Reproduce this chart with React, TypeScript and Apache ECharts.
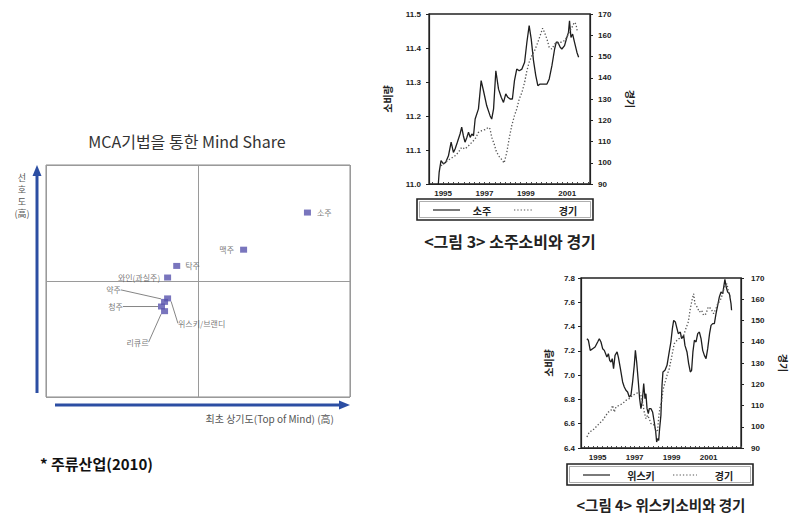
import React, { useEffect, useRef } from "react";
import * as echarts from "echarts";

// ---- MCA scatter data ----
const mcaNames = ["소주", "맥주", "탁주", "와인(과실주)", "위스키/브랜디", "약주", "청주", "리큐르"];
const mcaX = [0.72, 0.3, -0.14, -0.2, -0.2, -0.22, -0.24, -0.22];
const mcaY = [0.59, 0.27, 0.13, 0.03, -0.15, -0.18, -0.22, -0.26];

// ---- 그림 3: 소주 consumption (left) & 경기 (right) ----
const sojuConsumption: [number, number][] = [
  [1994.77, 11.0], [1994.81, 11.034], [1994.9, 11.069], [1995.02, 11.059], [1995.13, 11.064],
  [1995.26, 11.083], [1995.39, 11.123], [1995.5, 11.093], [1995.58, 11.103], [1995.69, 11.123],
  [1995.82, 11.147], [1995.9, 11.167], [1995.98, 11.142], [1996.06, 11.123], [1996.15, 11.137],
  [1996.23, 11.152], [1996.31, 11.137], [1996.39, 11.147], [1996.47, 11.142], [1996.55, 11.191],
  [1996.71, 11.221], [1996.84, 11.304], [1996.95, 11.275], [1997.11, 11.23], [1997.27, 11.201],
  [1997.35, 11.191], [1997.44, 11.221], [1997.55, 11.333], [1997.68, 11.279], [1997.81, 11.255],
  [1997.92, 11.24], [1998.03, 11.265], [1998.13, 11.255], [1998.24, 11.25], [1998.35, 11.25],
  [1998.45, 11.304], [1998.56, 11.338], [1998.68, 11.333], [1998.81, 11.338], [1998.94, 11.358],
  [1999.05, 11.417], [1999.16, 11.466], [1999.26, 11.426], [1999.37, 11.363], [1999.48, 11.319],
  [1999.58, 11.289], [1999.69, 11.294], [1999.85, 11.294], [2000.02, 11.294], [2000.13, 11.309],
  [2000.26, 11.348], [2000.39, 11.397], [2000.47, 11.417], [2000.55, 11.417], [2000.66, 11.402],
  [2000.74, 11.397], [2000.87, 11.407], [2000.98, 11.431], [2001.06, 11.446], [2001.11, 11.48],
  [2001.18, 11.431], [2001.26, 11.441], [2001.35, 11.417], [2001.47, 11.387], [2001.55, 11.373],
];
const sojuEconomy: [number, number][] = [
  [1994.9, 98.6], [1995.1, 100.2], [1995.34, 101.8], [1995.58, 103.3], [1995.74, 104.9],
  [1995.9, 107.3], [1996.06, 106.5], [1996.23, 108.0], [1996.39, 109.6], [1996.55, 111.2],
  [1996.71, 114.3], [1996.87, 115.1], [1997.03, 115.6], [1997.19, 116.7], [1997.27, 115.9],
  [1997.35, 112.0], [1997.47, 108.8], [1997.56, 105.7], [1997.68, 103.3], [1997.81, 101.8],
  [1997.95, 99.9], [1998.08, 104.9], [1998.19, 111.2], [1998.32, 117.5], [1998.45, 122.2],
  [1998.56, 125.3], [1998.68, 130.0], [1998.81, 133.1], [1998.94, 137.8], [1999.05, 143.3],
  [1999.16, 147.3], [1999.29, 150.4], [1999.42, 152.7], [1999.58, 156.7], [1999.69, 159.8],
  [1999.81, 163.3], [1999.9, 161.4], [2000.02, 158.2], [2000.13, 154.3], [2000.26, 153.5],
  [2000.39, 155.9], [2000.5, 155.9], [2000.61, 156.7], [2000.74, 156.7], [2000.87, 157.5],
  [2000.98, 159.0], [2001.1, 161.4], [2001.23, 163.7], [2001.34, 166.1], [2001.42, 165.3],
  [2001.48, 162.2],
];

// ---- 그림 4: 위스키 consumption (left) & 경기 (right) ----
const whiskyConsumption: [number, number][] = [
  [1994.42, 7.3], [1994.5, 7.287], [1994.6, 7.204], [1994.73, 7.218], [1994.86, 7.232],
  [1995.0, 7.273], [1995.09, 7.3], [1995.18, 7.273], [1995.27, 7.218], [1995.36, 7.204],
  [1995.5, 7.149], [1995.58, 7.177], [1995.65, 7.122], [1995.72, 7.108], [1995.79, 7.136],
  [1995.86, 7.053], [1995.94, 7.163], [1996.05, 7.191], [1996.12, 7.149], [1996.23, 7.053],
  [1996.35, 6.944], [1996.44, 6.902], [1996.53, 6.875], [1996.62, 6.861], [1996.71, 6.82],
  [1996.8, 6.834], [1996.89, 6.944], [1996.98, 7.081], [1997.04, 7.204], [1997.11, 7.108],
  [1997.2, 6.944], [1997.27, 6.806], [1997.34, 6.724], [1997.41, 6.779], [1997.49, 6.93],
  [1997.56, 6.806], [1997.61, 6.847], [1997.67, 6.724], [1997.74, 6.683], [1997.79, 6.724],
  [1997.88, 6.724], [1997.97, 6.697], [1998.06, 6.614], [1998.14, 6.532], [1998.19, 6.449],
  [1998.24, 6.477], [1998.3, 6.463], [1998.35, 6.559], [1998.42, 6.669], [1998.48, 6.916],
  [1998.53, 7.026], [1998.64, 7.04], [1998.75, 7.081], [1998.87, 7.191], [1998.96, 7.273],
  [1999.04, 7.383], [1999.11, 7.451], [1999.2, 7.438], [1999.29, 7.383], [1999.36, 7.342],
  [1999.47, 7.355], [1999.54, 7.3], [1999.65, 7.328], [1999.72, 7.245], [1999.83, 7.191],
  [1999.92, 7.095], [2000.01, 7.026], [2000.08, 7.04], [2000.15, 7.191], [2000.23, 7.287],
  [2000.32, 7.273], [2000.41, 7.342], [2000.5, 7.355], [2000.59, 7.3], [2000.68, 7.204],
  [2000.77, 7.163], [2000.86, 7.136], [2000.95, 7.218], [2001.05, 7.342], [2001.13, 7.41],
  [2001.22, 7.424], [2001.31, 7.424], [2001.4, 7.506], [2001.49, 7.575], [2001.58, 7.644],
  [2001.67, 7.685], [2001.76, 7.671], [2001.88, 7.789], [2001.95, 7.726], [2002.03, 7.685],
  [2002.12, 7.671], [2002.21, 7.589], [2002.24, 7.534],
];
const whiskyEconomy: [number, number][] = [
  [1994.42, 95.2], [1994.55, 97.5], [1994.73, 98.3], [1994.91, 99.9], [1995.09, 101.5],
  [1995.27, 103.0], [1995.45, 105.4], [1995.58, 106.9], [1995.72, 107.7], [1995.81, 110.1],
  [1995.9, 106.9], [1995.99, 109.3], [1996.17, 110.1], [1996.35, 110.9], [1996.53, 112.4],
  [1996.71, 113.2], [1996.89, 114.8], [1997.07, 115.6], [1997.25, 116.4], [1997.34, 114.8],
  [1997.43, 111.6], [1997.52, 106.9], [1997.61, 103.8], [1997.7, 105.4], [1997.79, 103.8],
  [1997.88, 101.5], [1997.97, 101.5], [1998.06, 100.7], [1998.17, 97.5], [1998.24, 98.3],
  [1998.31, 105.4], [1998.39, 110.1], [1998.46, 111.6], [1998.53, 117.1], [1998.6, 119.5],
  [1998.75, 124.2], [1998.87, 127.3], [1999.0, 132.8], [1999.14, 139.1], [1999.29, 140.7],
  [1999.41, 141.5], [1999.54, 143.0], [1999.65, 143.0], [1999.77, 146.2], [1999.9, 149.3],
  [2000.01, 155.6], [2000.1, 159.5], [2000.19, 162.6], [2000.26, 157.9], [2000.37, 156.4],
  [2000.5, 154.0], [2000.62, 154.8], [2000.73, 152.4], [2000.86, 153.2], [2000.98, 156.4],
  [2001.13, 155.6], [2001.27, 153.2], [2001.4, 155.6], [2001.49, 157.9], [2001.63, 159.5],
  [2001.76, 162.6], [2001.88, 166.5], [2001.99, 167.3], [2002.06, 164.2], [2002.17, 161.1],
];

const yearLabels = [1995, 1997, 1999, 2001];
const quarterTicks = (from: number, to: number) => {
  const out: number[] = [];
  for (let q = Math.ceil(from * 4); q <= Math.floor(to * 4); q++) out.push(q / 4);
  return out;
};

// label placement styles for the MCA points (offsets in px)
const labelStyle: Record<string, any> = {
  "소주": { position: "right", distance: 6 },
  "맥주": { position: "left", distance: 6 },
  "탁주": { position: "right", distance: 5 },
  "와인(과실주)": { position: "left", distance: 4, offset: [0, -3] },
};
const labelShift: Record<string, [number, number]> = {
  "약주": [-51, -12],
  "청주": [-46, 0],
  "위스키/브랜디": [34, 25],
  "리큐르": [-27, 31],
};

const FONT = "'Noto Sans CJK KR', 'Noto Sans', sans-serif";
const NUMFONT = "'Liberation Sans', Arial, sans-serif";
const ARROW = "#2c4ea3";

export default function App() {
  const ref = useRef<HTMLDivElement>(null);
  useEffect(() => {
    if (!ref.current) return;
    const chart = echarts.init(ref.current, undefined, { renderer: "svg" });

    const scatterData = mcaNames.map((n, i) => {
      const item: any = { name: n, value: [mcaX[i], mcaY[i]] };
      if (labelStyle[n]) item.label = { ...labelStyle[n] };
      else {
        item.label = { position: "inside" };
        item.labelLine = { show: true };
      }
      return item;
    });

    const tsAxisLabel = {
      fontSize: 8,
      fontWeight: "bold",
      fontFamily: NUMFONT,
      color: "#222",
    };

    const option: any = {
      animation: false,
      backgroundColor: "#ffffff",
      grid: [
        { left: 46, top: 165, width: 304, height: 232, show: true, borderColor: "#8a8a8a", borderWidth: 1 },
        { left: 429, top: 14, width: 161, height: 170, show: true, borderColor: "#222", borderWidth: 1.3 },
        { left: 581, top: 278, width: 160, height: 170, show: true, borderColor: "#222", borderWidth: 1.3 },
      ],
      xAxis: [
        {
          gridIndex: 0, type: "value", min: -1, max: 1, interval: 1,
          axisLine: { show: false }, axisTick: { show: false }, axisLabel: { show: false },
          splitLine: { show: true, lineStyle: { color: "#9a9a9a", width: 1 } },
        },
        {
          gridIndex: 1, type: "value", min: 1994.32, max: 2002.1,
          axisLine: { show: true, lineStyle: { color: "#222", width: 1.2 } },
          axisTick: { show: true, inside: true, length: 2, customValues: quarterTicks(1994.32, 2002.1), lineStyle: { color: "#444" } },
          axisLabel: { ...tsAxisLabel, margin: 5, customValues: yearLabels, formatter: (v: number) => String(Math.round(v)) },
          splitLine: { show: false },
        },
        {
          gridIndex: 2, type: "value", min: 1994.1, max: 2002.75,
          axisLine: { show: true, lineStyle: { color: "#222", width: 1.2 } },
          axisTick: { show: true, inside: true, length: 2, customValues: quarterTicks(1994.1, 2002.75), lineStyle: { color: "#444" } },
          axisLabel: { ...tsAxisLabel, margin: 5, customValues: yearLabels, formatter: (v: number) => String(Math.round(v)) },
          splitLine: { show: false },
        },
      ],
      yAxis: [
        {
          gridIndex: 0, type: "value", min: -1, max: 1, interval: 1,
          axisLine: { show: false }, axisTick: { show: false }, axisLabel: { show: false },
          splitLine: { show: true, lineStyle: { color: "#9a9a9a", width: 1 } },
        },
        {
          gridIndex: 1, type: "value", min: 11.0, max: 11.5, interval: 0.1, position: "left",
          name: "소비량", nameLocation: "middle", nameGap: 37, nameRotate: 90,
          nameTextStyle: { fontFamily: FONT, fontSize: 10, fontWeight: "bold", color: "#222" },
          axisLine: { show: true, lineStyle: { color: "#222", width: 1.2 } },
          axisTick: { show: true, length: 3, lineStyle: { color: "#222" } },
          axisLabel: { ...tsAxisLabel, margin: 8, formatter: (v: number) => v.toFixed(1) },
          splitLine: { show: false },
        },
        {
          gridIndex: 1, type: "value", min: 90, max: 170, interval: 10, position: "right",
          name: "경기", nameLocation: "middle", nameGap: 36, nameRotate: -90,
          nameTextStyle: { fontFamily: FONT, fontSize: 10, fontWeight: "bold", color: "#222" },
          axisLine: { show: true, lineStyle: { color: "#222", width: 1.2 } },
          axisTick: { show: true, length: 3, lineStyle: { color: "#222" } },
          axisLabel: { ...tsAxisLabel, margin: 8 },
          splitLine: { show: false },
        },
        {
          gridIndex: 2, type: "value", min: 6.4, max: 7.8, interval: 0.2, position: "left",
          name: "소비량", nameLocation: "middle", nameGap: 28, nameRotate: 90,
          nameTextStyle: { fontFamily: FONT, fontSize: 10, fontWeight: "bold", color: "#222" },
          axisLine: { show: true, lineStyle: { color: "#222", width: 1.2 } },
          axisTick: { show: true, length: 3, lineStyle: { color: "#222" } },
          axisLabel: { ...tsAxisLabel, margin: 6, formatter: (v: number) => v.toFixed(1) },
          splitLine: { show: false },
        },
        {
          gridIndex: 2, type: "value", min: 90, max: 170, interval: 10, position: "right",
          name: "경기", nameLocation: "middle", nameGap: 38, nameRotate: -90,
          nameTextStyle: { fontFamily: FONT, fontSize: 10, fontWeight: "bold", color: "#222" },
          axisLine: { show: true, lineStyle: { color: "#222", width: 1.2 } },
          axisTick: { show: true, length: 3, lineStyle: { color: "#222" } },
          axisLabel: { ...tsAxisLabel, margin: 10 },
          splitLine: { show: false },
        },
      ],
      series: [
        {
          type: "scatter", xAxisIndex: 0, yAxisIndex: 0, symbol: "rect", symbolSize: [7, 6],
          itemStyle: { color: "#5753ad" },
          data: scatterData,
          label: {
            show: true, formatter: "{b}", fontSize: 8, color: "#555", fontFamily: FONT,
          },
          labelLine: { show: false, lineStyle: { color: "#666", width: 0.8 } },
          labelLayout: (p: any) => {
            const name = mcaNames[p.dataIndex];
            const s = labelShift[name];
            return s ? { dx: s[0], dy: s[1] } : {};
          },
        },
        {
          type: "line", name: "소주", xAxisIndex: 1, yAxisIndex: 1, data: sojuConsumption,
          showSymbol: false, lineStyle: { color: "#1e1e1e", width: 1.3 },
        },
        {
          type: "line", name: "경기", xAxisIndex: 1, yAxisIndex: 2, data: sojuEconomy,
          showSymbol: false, lineStyle: { color: "#555", width: 1.3, type: [1.3, 2] },
        },
        {
          type: "line", name: "위스키", xAxisIndex: 2, yAxisIndex: 3, data: whiskyConsumption,
          showSymbol: false, lineStyle: { color: "#1e1e1e", width: 1.3 },
        },
        {
          type: "line", name: "경기 ", xAxisIndex: 2, yAxisIndex: 4, data: whiskyEconomy,
          showSymbol: false, lineStyle: { color: "#555", width: 1.3, type: [1.3, 2] },
        },
      ],
      graphic: [
        // MCA title
        { type: "text", style: { text: "MCA기법을 통한 Mind Share", x: 187, y: 141, textAlign: "center", textVerticalAlign: "middle", fontSize: 16, fontFamily: FONT, fill: "#333" } },
        // vertical arrow
        { type: "line", shape: { x1: 37, y1: 393, x2: 37, y2: 174 }, style: { stroke: ARROW, lineWidth: 3 } },
        { type: "polygon", shape: { points: [[32.5, 176], [41.5, 176], [37, 165]] }, style: { fill: ARROW } },
        // horizontal arrow
        { type: "line", shape: { x1: 55, y1: 405, x2: 341, y2: 405 }, style: { stroke: ARROW, lineWidth: 3 } },
        { type: "polygon", shape: { points: [[339, 400.5], [339, 409.5], [350, 405]] }, style: { fill: ARROW } },
        { type: "text", style: { text: "선\n호\n도\n(高)", x: 22, y: 171, textAlign: "center", textVerticalAlign: "top", fontSize: 9, lineHeight: 12, fontFamily: FONT, fill: "#555" } },
        { type: "text", style: { text: "최초 상기도(Top of Mind) (高)", x: 334, y: 418, textAlign: "right", textVerticalAlign: "middle", fontSize: 10, fontFamily: FONT, fill: "#555" } },
        // footnote
        { type: "text", style: { text: "* 주류산업(2010)", x: 40, y: 463, textAlign: "left", textVerticalAlign: "middle", fontSize: 15, fontWeight: "bold", fontFamily: FONT, fill: "#111" } },
        // legend box - 그림 3
        { type: "rect", shape: { x: 417, y: 199, width: 176, height: 21 }, style: { fill: "none", stroke: "#222", lineWidth: 1.6 } },
        { type: "rect", shape: { x: 419.5, y: 201.5, width: 171, height: 16 }, style: { fill: "none", stroke: "#777", lineWidth: 0.6 } },
        { type: "line", shape: { x1: 433, y1: 210, x2: 460, y2: 210 }, style: { stroke: "#222", lineWidth: 1.2 } },
        { type: "text", style: { text: "소주", x: 482, y: 210, textAlign: "center", textVerticalAlign: "middle", fontSize: 10, fontWeight: "bold", fontFamily: FONT, fill: "#222" } },
        { type: "line", shape: { x1: 514, y1: 210, x2: 533, y2: 210 }, style: { stroke: "#555", lineWidth: 1.2, lineDash: [1.3, 2] } },
        { type: "text", style: { text: "경기", x: 568, y: 210, textAlign: "center", textVerticalAlign: "middle", fontSize: 10, fontWeight: "bold", fontFamily: FONT, fill: "#222" } },
        { type: "text", style: { text: "<그림 3> 소주소비와 경기", x: 510, y: 241, textAlign: "center", textVerticalAlign: "middle", fontSize: 16, fontWeight: "bold", fontFamily: FONT, fill: "#222" } },
        // legend box - 그림 4
        { type: "rect", shape: { x: 567, y: 464, width: 186, height: 21 }, style: { fill: "none", stroke: "#222", lineWidth: 1.6 } },
        { type: "rect", shape: { x: 569.5, y: 466.5, width: 181, height: 16 }, style: { fill: "none", stroke: "#777", lineWidth: 0.6 } },
        { type: "line", shape: { x1: 583, y1: 475, x2: 610, y2: 475 }, style: { stroke: "#222", lineWidth: 1.2 } },
        { type: "text", style: { text: "위스키", x: 641, y: 475, textAlign: "center", textVerticalAlign: "middle", fontSize: 10, fontWeight: "bold", fontFamily: FONT, fill: "#222" } },
        { type: "line", shape: { x1: 673, y1: 475, x2: 697, y2: 475 }, style: { stroke: "#555", lineWidth: 1.2, lineDash: [1.3, 2] } },
        { type: "text", style: { text: "경기", x: 724, y: 475, textAlign: "center", textVerticalAlign: "middle", fontSize: 10, fontWeight: "bold", fontFamily: FONT, fill: "#222" } },
        { type: "text", style: { text: "<그림 4> 위스키소비와 경기", x: 661, y: 504, textAlign: "center", textVerticalAlign: "middle", fontSize: 14.5, fontWeight: "bold", fontFamily: FONT, fill: "#222" } },
      ],
    };
    chart.setOption(option);
    return () => chart.dispose();
  }, []);

  return (
    <div
      ref={ref}
      style={{ position: "absolute", left: 0, top: 0, width: 800, height: 531, background: "#fff" }}
    />
  );
}
